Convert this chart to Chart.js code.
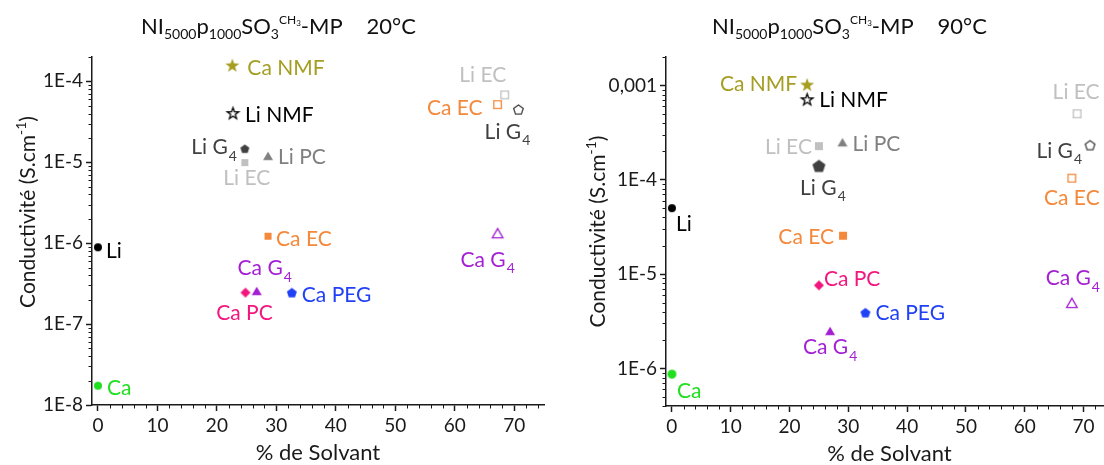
<!DOCTYPE html>
<html>
<head>
<meta charset="utf-8">
<title>Conductivité</title>
<script src="https://cdn.jsdelivr.net/npm/chart.js@4.4.1/dist/chart.umd.min.js"></script>
<style>
	html, body { margin: 0; padding: 0; background: #fff; overflow: hidden; width: 1104px; height: 465px; position: relative; }
	.box { position: absolute; top: 0; height: 465px; }
	#box20 { left: 0; width: 552px; }
	#box90 { left: 552px; width: 576px; }
	.ttl { position: absolute; top: 14px; font-family: Lato, sans-serif; font-size: 22px; color: #111; white-space: nowrap; line-height: 24px; }
	.ttl sub { font-size: 14px; vertical-align: -5px; line-height: 0; }
	.ttl sup { font-size: 12px; vertical-align: 10px; line-height: 0; }
	.ttl sup sub { font-size: 8px; vertical-align: -2px; }
	.ttl .temp { margin-left: 24px; }
</style>
</head>
<body>
<div class="box" id="box20"><canvas id="chart20"></canvas></div>
<div class="box" id="box90"><canvas id="chart90"></canvas></div>
<div class="ttl" style="left:141px">NI<sub>5000</sub>p<sub>1000</sub>SO<sub>3</sub><sup>CH<sub>3</sub></sup>-MP<span class="temp">20°C</span></div>
<div class="ttl" style="left:712px">NI<sub>5000</sub>p<sub>1000</sub>SO<sub>3</sub><sup>CH<sub>3</sub></sup>-MP<span class="temp">90°C</span></div>
<script>
/* data ============ */
var names = ['Ca NMF', 'Li NMF', 'Li G_4', 'Li PC', 'Li EC', 'Li EC', 'Ca EC', 'Li G_4', 'Li', 'Ca EC', 'Ca G_4', 'Ca PC', 'Ca G_4', 'Ca PEG', 'Ca'];

var solvant20 = [22.6, 22.7, 24.7, 28.6, 24.7, 68.4, 67.2, 70.7, 0, 28.6, 67.2, 24.8, 26.7, 32.6, 0];
var conduct20 = [1.6e-4, 4.1e-5, 1.47e-5, 1.2e-5, 9.9e-6, 6.8e-5, 5.15e-5, 4.5e-5, 8.9e-7, 1.22e-6, 1.33e-6, 2.45e-7, 2.57e-7, 2.45e-7, 1.73e-8];

var solvant90 = [23, 23, 25, 29, 25, 68.9, 68, 71.1, 0, 29.1, 68, 25, 26.9, 32.9, 0];
var conduct90 = [1.03e-3, 7.2e-4, 1.4e-4, 2.5e-4, 2.27e-4, 5e-4, 1.04e-4, 2.33e-4, 5e-5, 2.55e-5, 4.96e-6, 7.6e-6, 2.5e-6, 3.9e-6, 8.7e-7];

var xTicks = [0, 10, 20, 30, 40, 50, 60, 70];
var yTicks20 = [1e-8, 1e-7, 1e-6, 1e-5, 1e-4];
var yLabels20 = ['1E-8', '1E-7', '1E-6', '1E-5', '1E-4'];
var yTicks90 = [1e-6, 1e-5, 1e-4, 1e-3];
var yLabels90 = ['1E-6', '1E-5', '1E-4', '0,001'];

/* styles ============ */
var olive = '#a59e22', black = '#000000', dark = '#404040', grey = '#808080', light = '#c0c0c0',
	orange = '#f4893b', purple = '#a41fd4', pink = '#f2167f', blue = '#2141f5', green = '#1fdf1f';

// shape, filled, color, size (px)
var marks20 = [
	['star', 1, olive, 14], ['star', 0, black, 13], ['pentagon', 1, dark, 9], ['triangle', 1, grey, 10],
	['square', 1, light, 7], ['square', 0, light, 9], ['square', 0, orange, 9], ['pentagon', 0, dark, 11],
	['circle', 1, black, 8], ['square', 1, orange, 7], ['triangle', 0, purple, 12], ['diamond', 1, pink, 10],
	['triangle', 1, purple, 10], ['pentagon', 1, blue, 10], ['circle', 1, green, 8]
];
var marks90 = [
	['star', 1, olive, 14], ['star', 0, black, 13], ['pentagon', 1, dark, 13], ['triangle', 1, grey, 10],
	['square', 1, light, 8], ['square', 0, light, 9], ['square', 0, orange, 9], ['pentagon', 0, dark, 11],
	['circle', 1, black, 8], ['square', 1, orange, 8], ['triangle', 0, purple, 12], ['diamond', 1, pink, 10],
	['triangle', 1, purple, 10], ['pentagon', 1, blue, 10], ['circle', 1, green, 9]
];
// label anchor: align, dx, dy (from the point)
var place20 = [
	['left', 15, 3], ['left', 12, 2], ['right', -8, -2], ['left', 10, 1], ['center', 2, 15],
	['center', -22, -20], ['right', -15, 3], ['center', -11, 22], ['left', 8, 3], ['left', 8, 2],
	['center', -10, 26], ['center', -1, 20], ['center', 8, -23], ['left', 10, 2], ['left', 9, 2]
];
var place90 = [
	['right', -10, -1], ['left', 12, 1], ['center', 4, 21], ['left', 10, 1], ['right', -7, 0],
	['center', -1, -22], ['center', 0, 19], ['right', -8, 5], ['left', 4, 15], ['right', -9, 1],
	['center', 1, -25], ['left', 5, -7], ['center', 0, 16], ['left', 10, 0], ['left', 5, 16]
];

var FONT = 'Lato, sans-serif';
var INK = '#1a1a1a';

var makeMarker = function(shape, filled, color, size) {
	var pad = 3, c = document.createElement('canvas');
	c.width = c.height = Math.ceil(size + 2 * pad);
	var g = c.getContext('2d'), m = c.width / 2, r = size / 2;
	if (!filled) r -= 0.7;
	g.fillStyle = color; g.strokeStyle = color; g.lineWidth = 1.3;
	g.beginPath();
	if (shape === 'circle') {
		g.arc(m, m, r, 0, 2 * Math.PI);
	} else if (shape === 'square') {
		g.rect(m - r, m - r, 2 * r, 2 * r);
	} else if (shape === 'diamond') {
		g.moveTo(m, m - r); g.lineTo(m + r, m); g.lineTo(m, m + r); g.lineTo(m - r, m);
	} else if (shape === 'triangle') {
		var h = r * 1.732;
		g.moveTo(m, m - h / 2); g.lineTo(m + r, m + h / 2); g.lineTo(m - r, m + h / 2);
	} else if (shape === 'pentagon') {
		for (var k = 0; k < 5; k++) {
			var a = -Math.PI / 2 + k * 2 * Math.PI / 5;
			g.lineTo(m + r * 1.05 * Math.cos(a), m + 0.5 + r * 1.05 * Math.sin(a));
		}
	} else if (shape === 'star') {
		for (var j = 0; j < 10; j++) {
			var b = -Math.PI / 2 + j * Math.PI / 5, rr = (j % 2) ? r * 0.42 : r * 1.05;
			g.lineTo(m + rr * Math.cos(b), m + 1 + rr * Math.sin(b));
		}
	}
	g.closePath();
	if (filled) g.fill(); else g.stroke();
	return c;
};

// draw "Li G_4" style text, subscript after "_"
var drawRich = function(ctx, text, x, cy, align, size) {
	var parts = text.split('_'), main = parts[0], sub = parts[1] || '';
	ctx.font = size + 'px ' + FONT;
	var w1 = ctx.measureText(main).width;
	ctx.font = Math.round(size * 0.66) + 'px ' + FONT;
	var w2 = sub ? ctx.measureText(sub).width + 1 : 0;
	var x0 = align === 'left' ? x : (align === 'right' ? x - w1 - w2 : x - (w1 + w2) / 2);
	var base = cy + size * 0.36;
	ctx.textAlign = 'left'; ctx.textBaseline = 'alphabetic';
	ctx.font = size + 'px ' + FONT;
	ctx.fillText(main, x0, base);
	if (sub) {
		ctx.font = Math.round(size * 0.66) + 'px ' + FONT;
		ctx.fillText(sub, x0 + w1 + 1, base + size * 0.3);
	}
};

var pointLabels = {
	id: 'pointLabels',
	afterDatasetsDraw: function(chart, args, opts) {
		var ctx = chart.ctx;
		ctx.save();
		chart.data.datasets.forEach(function(ds, i) {
			var el = chart.getDatasetMeta(i).data[0], p = opts.place[i];
			ctx.fillStyle = opts.marks[i][2];
			drawRich(ctx, ds.label, el.x + p[1], el.y + p[2], p[0], 21);
		});
		ctx.restore();
	}
};

var axisExtras = {
	id: 'axisExtras',
	afterDraw: function(chart, args, opts) {
		var ctx = chart.ctx, xs = chart.scales.x, ys = chart.scales.y, area = chart.chartArea;
		ctx.save();
		// minor ticks
		ctx.strokeStyle = INK; ctx.lineWidth = 1;
		ctx.beginPath();
		for (var v = 2; v <= 74; v += 2) {
			if (v % 10 === 0) continue;
			var px = Math.round(xs.getPixelForValue(v)) + 0.5;
			ctx.moveTo(px, area.bottom); ctx.lineTo(px, area.bottom + 3.5);
		}
		for (var e = -9; e <= -2; e++) {
			for (var d = 2; d <= 9; d++) {
				var val = d * Math.pow(10, e);
				if (val < ys.min || val > ys.max) continue;
				var py = Math.round(ys.getPixelForValue(val)) + 0.5;
				ctx.moveTo(area.left, py); ctx.lineTo(area.left - 3.5, py);
			}
		}
		ctx.stroke();
		// axis titles
		ctx.fillStyle = INK;
		ctx.font = '22px ' + FONT;
		ctx.textAlign = 'center'; ctx.textBaseline = 'alphabetic';
		ctx.fillText('% de Solvant', (area.left + area.right) / 2, opts.xTitleY);
		ctx.translate(opts.yTitleX, (area.top + area.bottom) / 2 + opts.yShift);
		ctx.rotate(-Math.PI / 2);
		var t1 = 'Conductivité (S.cm', t2 = '-1', t3 = ')';
		ctx.font = '21px ' + FONT;
		var w1 = ctx.measureText(t1).width, w3 = ctx.measureText(t3).width;
		ctx.font = '14px ' + FONT;
		var w2 = ctx.measureText(t2).width;
		var x0 = -(w1 + w2 + w3) / 2;
		ctx.textAlign = 'left';
		ctx.font = '21px ' + FONT;
		ctx.fillText(t1, x0, 0);
		ctx.font = '14px ' + FONT;
		ctx.fillText(t2, x0 + w1, -9);
		ctx.font = '21px ' + FONT;
		ctx.fillText(t3, x0 + w1 + w2, 0);
		ctx.restore();
	}
};

var buildSets = function(xs, ys, marks) {
	return xs.map(function(x, i) {
		var m = marks[i];
		return {
			label: names[i],
			data: [{ x: x, y: ys[i] }],
			pointStyle: makeMarker(m[0], m[1], m[2], m[3]),
			pointRadius: m[3] / 2,
			backgroundColor: m[2],
			borderColor: m[2],
			clip: false
		};
	});
};

var makeChart = function(id, xs, ys, marks, place, yTicks, yLabels, yMin, yMax, geo) {
	return new Chart(document.getElementById(id), {
		type: 'scatter',
		data: { datasets: buildSets(xs, ys, marks) },
		options: {
			responsive: true,
			maintainAspectRatio: false,
			animation: false,
			layout: { padding: { top: geo.top, right: geo.right, bottom: 0, left: 0 } },
			plugins: {
				legend: false,
				tooltip: { enabled: false },
				pointLabels: { marks: marks, place: place },
				axisExtras: geo.extras
			},
			scales: {
				x: {
					type: 'linear', min: -1, max: 75,
					afterBuildTicks: function(s) { s.ticks = xTicks.map(function(v) { return { value: v }; }); },
					afterFit: function(s) { s.height = geo.xh; },
					ticks: { color: INK, font: { family: FONT, size: 19 }, padding: 3, maxRotation: 0, autoSkip: false },
					grid: { drawOnChartArea: false, drawTicks: true, tickLength: 6, tickWidth: 1.5, tickColor: INK },
					border: { display: true, color: INK, width: 1.5 }
				},
				y: {
					type: 'logarithmic', min: yMin, max: yMax,
					afterBuildTicks: function(s) { s.ticks = yTicks.map(function(v) { return { value: v }; }); },
					afterFit: function(s) { s.width = geo.yw; },
					ticks: {
						color: INK, font: { family: FONT, size: 19 }, padding: 3, autoSkip: false,
						callback: function(v, i) { return yLabels[i]; }
					},
					grid: { drawOnChartArea: false, drawTicks: true, tickLength: 6, tickWidth: 1.5, tickColor: INK },
					border: { display: true, color: INK, width: 1.5 }
				}
			}
		},
		plugins: [pointLabels, axisExtras]
	});
};

makeChart('chart20', solvant20, conduct20, marks20, place20, yTicks20, yLabels20, 1e-8, 2e-4,
	{ top: 57, right: 8, xh: 60, yw: 92, extras: { xTitleY: 460, yTitleX: 35, yShift: -19 } });
makeChart('chart90', solvant90, conduct90, marks90, place90, yTicks90, yLabels90, 4e-7, 2e-3,
	{ top: 57, right: 15, xh: 59, yw: 114, extras: { xTitleY: 461, yTitleX: 53, yShift: 0 } });
</script>
</body>
</html>
